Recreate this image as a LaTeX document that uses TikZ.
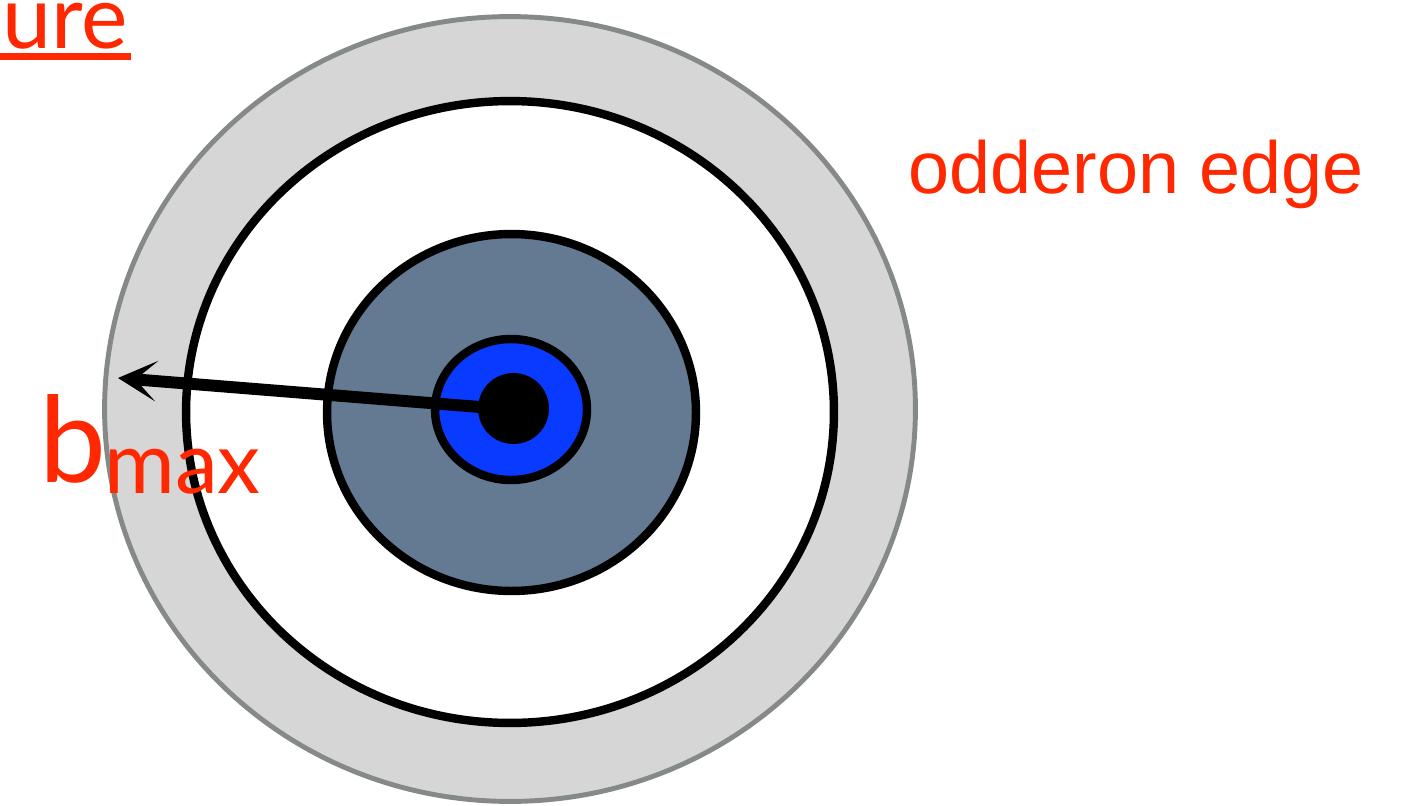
\documentclass[tikz,border=0pt]{standalone}
\usepackage{fontspec}
\setmainfont{Liberation Sans}
\newfontfamily\gillish{Lato}
\usetikzlibrary{positioning,arrows.meta,shapes.geometric}
\definecolor{edgered}{RGB}{255,40,0}
\definecolor{ringgray}{RGB}{214,214,214}
\definecolor{ringline}{RGB}{133,138,135}
\definecolor{slate}{RGB}{100,121,146}
\definecolor{coreblue}{RGB}{8,58,255}

\begin{document}
\begin{tikzpicture}[
  x=0.02cm, y=-0.02cm,
  ring/.style={ellipse, draw=black, line width=4.8pt, inner sep=0pt},
  arrow/.style={-{Stealth[length=22pt, width=23pt, inset=12pt]}, line width=6.8pt},
  redtext/.style={text=edgered, inner sep=0pt}
]
\useasboundingbox (0,0) rectangle (1412,805);
% rings, outside in
\node[ellipse, draw=ringline, fill=ringgray, line width=2.8pt, inner sep=0pt,
      minimum width=16.22cm, minimum height=15.7cm] (edge) at (510,409) {};
\node[ring, fill=white, minimum width=12.96cm, minimum height=12.44cm] (halo) at (510,412) {};
\node[ring, fill=slate, minimum width=7.38cm, minimum height=7.14cm] (disk) at (511.5,412.5) {};
\node[ring, fill=coreblue, minimum width=3.04cm, minimum height=2.82cm] (core) at (511,409.5) {};
\coordinate (bmaxtip) at (118,378);
\draw[arrow] (core.center) -- (bmaxtip);
\node[circle, fill=black, minimum size=1.42cm, inner sep=0pt] (dot) at (513.5,408.5) {};
% labels
\node[redtext, anchor=base west, font=\fontsize{42}{50}\selectfont] (oddlabel) at (908,193) {odderon edge};
\node[redtext, anchor=base west, font=\gillish\fontsize{68}{80}\selectfont] (bsym) at (39,482) {b};
\node[redtext, anchor=base west, font=\gillish\fontsize{49}{58}\selectfont] (bsub) at (104,493) {max};
\node[redtext, anchor=base east, font=\gillish\fontsize{50}{60}\selectfont] (ure) at (128,48) {ure};
\draw[edgered, line width=3.9pt] (0,56.5) -- (ure.base east |- 0,56.5) -- ++(3,0);
\end{tikzpicture}
\end{document}
